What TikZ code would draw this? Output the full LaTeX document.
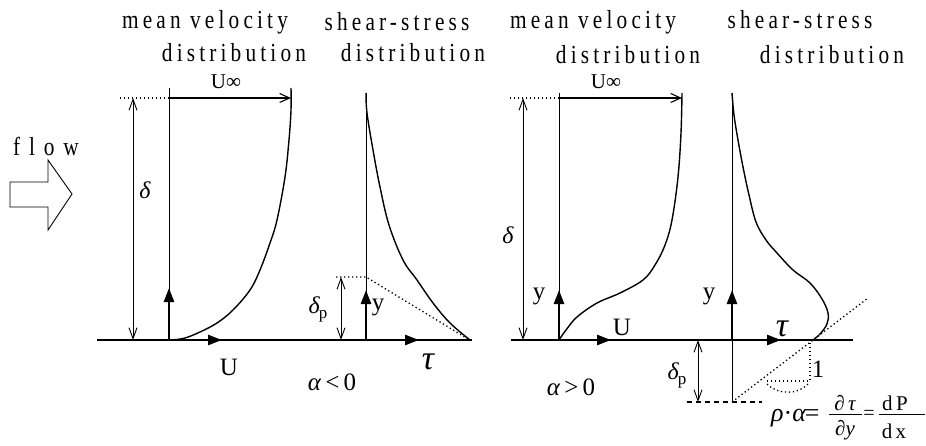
\documentclass[tikz,border=0pt]{standalone}
\usepackage{fontspec}
\setmainfont{Liberation Serif}
\newfontfamily\spacedfont[LetterSpace=16,FakeStretch=0.82]{Liberation Serif}
\newfontfamily\flowfont[LetterSpace=34,FakeStretch=0.82]{Liberation Serif}
\usetikzlibrary{arrows.meta}
\newcommand{\dpl}{{\itshape δ}\kern-1pt\raisebox{-5pt}{\fontsize{17}{17}\selectfont p}}
\begin{document}
\begin{tikzpicture}[x=1pt,y=-1pt,
  thinln/.style={line width=0.9pt},
  baseln/.style={line width=1.6pt},
  curveln/.style={line width=1.4pt},
  thickarrow/.style={line width=2.6pt,-{Triangle[length=14pt,width=10pt]}},
  dimarrow/.style={line width=0.9pt,{Straight Barb[length=11pt,width=8pt]}-{Straight Barb[length=11pt,width=8pt]}},
  uinf/.style={line width=1.1pt,-{Straight Barb[length=10pt,width=9pt]}},
  dotln/.style={line width=1.3pt,dash pattern=on 1.3pt off 2.7pt},
  dashln/.style={line width=1.1pt,dash pattern=on 5pt off 4pt},
  title/.style={font=\fontsize{26}{26}\selectfont\spacedfont, inner sep=0pt},
  lbl/.style={inner sep=0pt, font=\fontsize{25}{25}\selectfont},
  biglbl/.style={inner sep=0pt, font=\fontsize{34}{34}\selectfont\itshape},
  dlbl/.style={inner sep=0pt, font=\fontsize{24}{24}\selectfont},
  smlbl/.style={inner sep=0pt, font=\fontsize{21}{21}\selectfont},
  fracpart/.style={inner sep=0pt, font=\fontsize{21}{21}\selectfont},
  fracbar/.style={line width=1pt}]
\useasboundingbox (0,0) rectangle (926,446);

% ---------- titles ----------
\node[title] (t1) at (205,22) {mean velocity};
\node[title] (t2) at (234,53) {distribution};
\node[title] (t3) at (397,22) {shear-stress};
\node[title] (t4) at (413,53) {distribution};
\node[title] (t5) at (593,22) {mean velocity};
\node[title] (t6) at (628,55) {distribution};
\node[title] (t7) at (800,20) {shear-stress};
\node[title] (t8) at (832,55) {distribution};

% ---------- flow arrow ----------
\node[inner sep=0pt,font=\fontsize{26}{26}\selectfont\flowfont] (flow) at (46,146) {flow};
\draw[thinln] (10,182) -- (48,182) -- (48,160) -- (72,194) -- (48,230) -- (48,207) -- (10,207) -- cycle;

% ================= LEFT PANEL (alpha<0) =================
\coordinate (LB0) at (97,340);
\coordinate (LB1) at (472,340);
\draw[baseln] (LB0) -- (LB1);

% velocity distribution
\coordinate (LvO) at (169,340);
\coordinate (LvT) at (169,88);
\draw[thinln] (LvO) -- (LvT);
\coordinate (LdT) at (133,98);
\coordinate (LdB) at (133,340);
\draw[dimarrow] (LdT) -- (LdB);
\draw[dotln] (120,98) -- (169,98);
\coordinate (LuS) at (169,98);
\coordinate (LuE) at (291,98);
\draw[uinf] (LuS) -- (LuE);
\node[smlbl] (Luinf) at (226,82) {U∞};
\node[dlbl] (Ldelta) at (145,190) {\itshape δ};
\draw[curveln] plot[smooth,tension=0.6] coordinates {(172,340) (185,338) (200,332) (217,323) (233,310) (250,290) (260,270) (270,243) (277,220) (285,177) (289,140) (291,110) (291,88)};
\draw[thickarrow] (LvO) -- (169,288);
\draw[thickarrow] (LvO) -- (222,340);
\node[lbl] (LU) at (229,367) {U};

% shear-stress distribution
\coordinate (LsO) at (366,340);
\coordinate (LsT) at (366,93);
\draw[thinln] (LsO) -- (LsT);
\draw[curveln] plot[smooth,tension=0.6] coordinates {(366,93) (367,113) (373,150) (380,187) (389,225) (403,260) (417,280) (433,303) (450,323) (470,340)};
\coordinate (LpT) at (341,277);
\coordinate (LpB) at (341,340);
\draw[dotln] (336,277) -- (366,277) -- (468,339);
\draw[dimarrow] (LpT) -- (LpB);
\node[dlbl] (Ldp) at (318,309) {\dpl};
\draw[thickarrow] (LsO) -- (366,290);
\draw[thickarrow] (LsO) -- (419,340);
\node[lbl] (Ly) at (378,307) {y};
\node[biglbl] (Ltau) at (428,362) {τ};
\node[lbl] (Lalpha) at (332,382) {{\itshape α}\,<\,0};

% ================= RIGHT PANEL (alpha>0) =================
\coordinate (RB0) at (511,340);
\coordinate (RB1) at (853,340);
\draw[baseln] (RB0) -- (RB1);

% velocity distribution
\coordinate (RvO) at (559,340);
\coordinate (RvT) at (559,93);
\draw[thinln] (RvO) -- (RvT);
\coordinate (RdT) at (523,98);
\coordinate (RdB) at (523,340);
\draw[dimarrow] (RdT) -- (RdB);
\draw[dotln] (510,98) -- (559,98);
\coordinate (RuS) at (559,98);
\coordinate (RuE) at (682,98);
\draw[uinf] (RuS) -- (RuE);
\node[smlbl] (Ruinf) at (606,82) {U∞};
\node[dlbl] (Rdelta) at (508,235) {\itshape δ};
\draw[curveln] plot[smooth,tension=0.6] coordinates {(559,340) (566,330) (577,317) (597,303) (620,293) (643,280) (655,265) (665,245) (672,220) (678,177) (681,133) (682,93)};
\draw[thickarrow] (RvO) -- (559,290);
\draw[thickarrow] (RvO) -- (611,340);
\node[lbl] (Ry1) at (539,296) {y};
\node[lbl] (RU) at (622,327) {U};
\node[lbl] (Ralpha) at (571,387) {{\itshape α}\,>\,0};

% shear-stress distribution
\coordinate (RsO) at (732,340);
\coordinate (RsT) at (732,93);
\coordinate (RsB) at (732,402);
\draw[thinln] (RsB) -- (RsT);
\draw[curveln] plot[smooth,tension=0.6] coordinates {(732,93) (734,115) (738,140) (743,167) (749,195) (756,222) (766,240) (777,253) (793,270) (810,283) (822,299) (828,313) (827,324) (820,334) (813,340)};
\draw[thickarrow] (RsO) -- (732,290);
\draw[thickarrow] (RsO) -- (781,340);
\node[lbl] (Ry2) at (709,296) {y};
\node[biglbl] (Rtau) at (782,329) {τ};
% tangent and pressure-gradient construction
\draw[dashln] (687,402) -- (762,402);
\coordinate (RtE) at (868,298);
\draw[dotln] (RsB) -- (RtE);
\coordinate (RpT) at (698,340);
\coordinate (RpB) at (698,402);
\draw[dimarrow] (RpT) -- (RpB);
\node[dlbl] (Rdp) at (677,375) {\dpl};
\draw[dotln] (810,343) -- (810,381) -- (767,381);
\draw[dotln] (767,384) .. controls (778,395) and (798,395) .. (808,384);
\node[lbl] (one) at (818,369) {1};

% formula rho.alpha = dtau/dy = dP/dx
\node[inner sep=0pt,anchor=base west,font=\fontsize{26}{26}\selectfont] (rhoa) at (771,421) {\itshape ρ\upshape·\itshape α\upshape\kern-1pt=};
\node[fracpart] (n1) at (845,403) {∂\,\itshape τ};
\node[fracpart] (d1) at (845,430) {∂\itshape y};
\draw[fracbar] (829,414) -- (862,414);
\node[inner sep=0pt,font=\fontsize{20}{20}\selectfont] (eq2) at (869,415) {=};
\node[fracpart] (n2) at (895,403) {d\,P};
\node[fracpart] (d2) at (894,431) {d\,x};
\draw[fracbar] (879,414) -- (925,414);
\end{tikzpicture}
\end{document}
